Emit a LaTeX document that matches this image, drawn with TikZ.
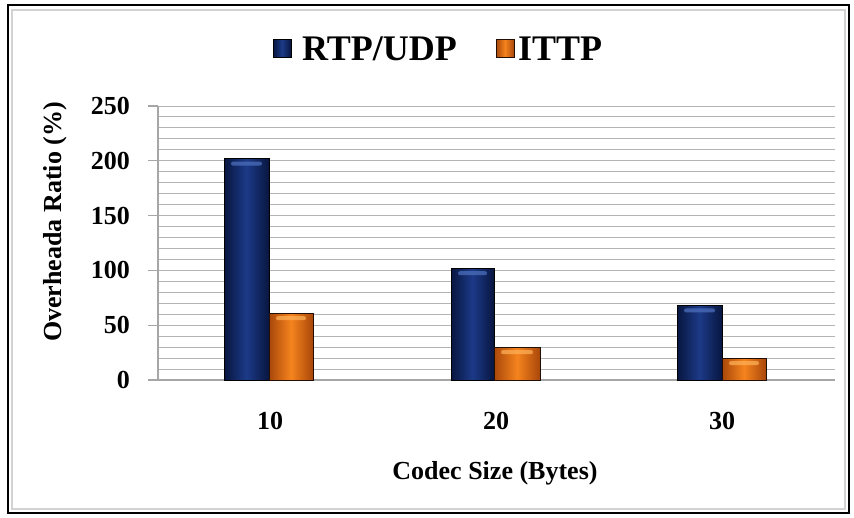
\documentclass[tikz,border=0pt]{standalone}
\usepackage{fontspec}
\setmainfont{Liberation Serif}
\definecolor{navyE}{HTML}{08163F}
\definecolor{navyM}{HTML}{1C3A88}
\definecolor{navyH}{HTML}{4F72C0}
\definecolor{orgE}{HTML}{A9470A}
\definecolor{orgM}{HTML}{F5841E}
\definecolor{orgH}{HTML}{FFB25A}
\definecolor{gridc}{HTML}{B4B4B4}
\tikzset{
  gridline/.style={draw=gridc, line width=1pt},
  axisline/.style={draw=gray!70, line width=1.2pt},
  ticklbl/.style={anchor=east, inner sep=0pt, font=\fontsize{26}{26}\selectfont\bfseries},
  catlbl/.style={anchor=center, inner sep=0pt, font=\fontsize{26}{26}\selectfont\bfseries},
  titlelbl/.style={inner sep=0pt, font=\fontsize{26}{26}\selectfont\bfseries},
  leglbl/.style={anchor=base west, inner sep=0pt, font=\fontsize{36}{36}\selectfont\bfseries},
  bluebar/.style={left color=navyE, right color=navyE, middle color=navyM, draw=black, line width=0.8pt},
  orangebar/.style={left color=orgE, right color=orgE, middle color=orgM, draw=black!80!orgE, line width=0.8pt},
}
\newcommand{\chartbar}[5]{% style, x left, x right, value, highlight colour
  \path[#1] (#2,380) rectangle (#3,{380-1.096*#4});
  \fill[#5, opacity=0.7, rounded corners=2pt] ({#2+7},{380-1.096*#4+3}) rectangle ({#3-7},{380-1.096*#4+7});
}
\begin{document}
\begin{tikzpicture}[x=1pt,y=-1pt]
\useasboundingbox (0,0) rectangle (854,517);
\fill[white] (0,0) rectangle (854,517);
\draw[gray!35, line width=1.5pt] (12,10) rectangle (845,509);
\draw[black, line width=2.5pt] (8,5) rectangle (849,513);

% grid lines
\foreach \v in {0,10,...,250}
  \draw[gridline] (158,{380-1.096*\v}) -- (835,{380-1.096*\v});
% major ticks
\foreach \v in {0,50,...,250}
  \draw[axisline] (148,{380-1.096*\v}) -- (158,{380-1.096*\v});
% axes
\coordinate (ytop) at (158,106);
\coordinate (origin) at (158,380);
\coordinate (xend) at (835,380);
\draw[axisline] (ytop) -- (origin);
\draw[axisline] (148,380) -- (xend);

% tick labels
\foreach \v in {0,50,...,250}
  \node[ticklbl] (t\v) at (130,{380-1.096*\v}) {\v};

% bars
\chartbar{bluebar}{224}{269}{202}{navyH}
\chartbar{orangebar}{269}{313}{61}{orgH}
\chartbar{bluebar}{451}{494}{102}{navyH}
\chartbar{orangebar}{494}{540}{30}{orgH}
\chartbar{bluebar}{677}{722}{68}{navyH}
\chartbar{orangebar}{722}{766}{20}{orgH}

% category labels
\node[catlbl] (c10) at (270,421) {10};
\node[catlbl] (c20) at (496,421) {20};
\node[catlbl] (c30) at (722,421) {30};

% axis titles
\node[titlelbl, anchor=base] (xt) at (495,479) {Codec Size (Bytes)};
\node[titlelbl, rotate=90] (yt) at (55,222) {Overheada Ratio (\%)};

% legend
\path[bluebar, line width=0.5pt] (273,39) rectangle (291,57);
\path[orangebar, line width=0.5pt] (496,39) rectangle (514,57);
\node[leglbl] (l1) at (302,60) {RTP/UDP};
\node[leglbl] (l2) at (518,60) {ITTP};
\end{tikzpicture}
\end{document}
